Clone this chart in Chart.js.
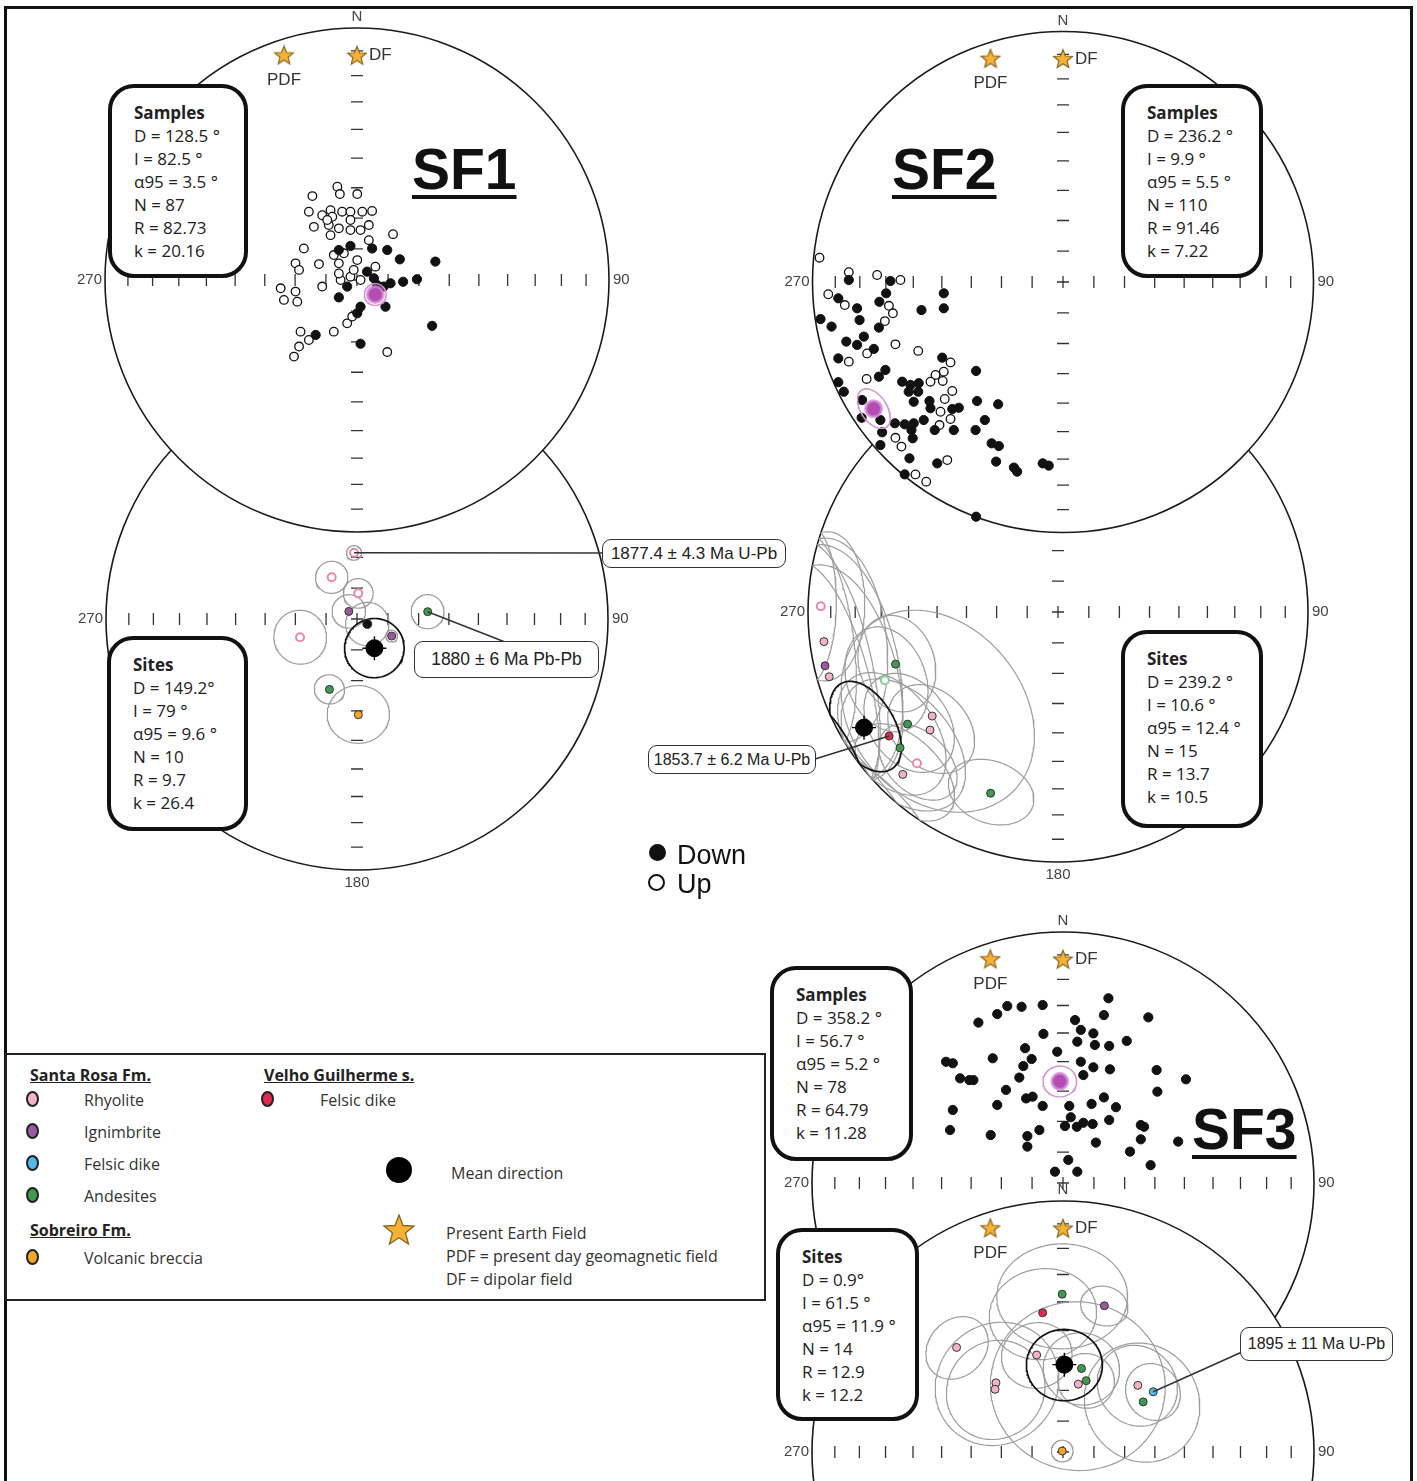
<!DOCTYPE html>
<html lang="en">
<head>
<meta charset="UTF-8">
<title>SF1 / SF2 / SF3 equal-area projections</title>
<script src="https://cdn.jsdelivr.net/npm/chart.js"></script>
<style>
  body { margin: 0; background: #fff; }
  #page { position: relative; width: 1417px; height: 1481px; overflow: hidden; background: #fff;
          font-family: "Open Sans", "Noto Sans", sans-serif; color: #222; }
  #frame { position: absolute; left: 4px; top: 6px; width: 1409px; height: 1520px; box-sizing: border-box;
           border: 3px solid #111; border-bottom: none; }
  canvas.net { position: absolute; }
  .box { position: absolute; box-sizing: border-box; border: 4px solid #111; border-radius: 26px; background: #fff;
         padding: 13px 0 0 22px; font-size: 17px; line-height: 23px; color: #222; white-space: nowrap; }
  .box b { font-weight: 700; }
  .title { position: absolute; font-family: "Liberation Sans", Arial, sans-serif; font-weight: 700; font-size: 57px;
           line-height: 57px; text-decoration: underline; text-decoration-thickness: 4px; text-underline-offset: 6px; color: #111; }
  .call { position: absolute; box-sizing: border-box; border: 1.5px solid #333; border-radius: 9px; background: #fff;
          font-family: "Liberation Sans", Arial, sans-serif; display: flex; align-items: center; justify-content: center;
          color: #222; white-space: nowrap; }
  #legend { position: absolute; left: 5px; top: 1053px; width: 761px; height: 248px; box-sizing: border-box;
            border: 2px solid #222; background: #fff; }
  .lt { position: absolute; font-size: 16px; line-height: 22px; color: #333; white-space: nowrap; }
  .lt.h { font-weight: 700; text-decoration: underline; color: #222; }
  .dot { position: absolute; width: 9px; height: 12px; border: 2px solid #222; border-radius: 50%; }
  .du { position: absolute; font-family: "Liberation Sans", Arial, sans-serif; font-size: 27px; line-height: 30px; color: #111; }
</style>
</head>
<body>
<div id="page">
  <div id="frame"></div>
</div>

<script>
// ---------- data ----------
// sample directions, equal-area projected (x = east, y = north, primitive radius = 1)
const sf1Down = [[-0.072,0.119],[-0.026,0.135],[0.060,0.125],[0.120,0.119],[0.170,0.082],[0.311,0.073],[0.040,0.033],
  [0.067,0.007],[0.133,-0.013],[0.183,-0.007],[0.238,0.003],[0.106,-0.026],[-0.072,-0.069],[0.014,-0.106],[0.001,-0.132],
  [0.113,-0.106],[0.298,-0.182],[-0.164,-0.218],[0.014,-0.253],[-0.039,-0.026],[0.080,-0.020]];
const sf1Up = [[-0.078,0.370],[-0.068,0.341],[0.001,0.341],[-0.177,0.333],[-0.191,0.271],[-0.138,0.257],[-0.105,0.277],
  [-0.098,0.251],[-0.059,0.271],[-0.026,0.271],[0.021,0.271],[0.060,0.274],[-0.171,0.211],[-0.112,0.218],[-0.072,0.205],
  [-0.026,0.238],[-0.026,0.198],[0.014,0.198],[0.047,0.218],[0.143,0.182],[0.047,0.158],[-0.105,0.178],[-0.211,0.125],
  [0.001,0.079],[0.073,0.053],[-0.244,0.066],[-0.230,0.040],[-0.151,0.063],[-0.072,0.066],[-0.065,0.000],[-0.026,0.013],
  [0.014,0.000],[-0.138,-0.026],[-0.303,-0.033],[-0.244,-0.046],[-0.290,-0.079],[-0.237,-0.086],[-0.039,-0.172],
  [-0.019,-0.145],[-0.092,-0.205],[-0.224,-0.205],[-0.191,-0.238],[-0.230,-0.264],[-0.250,-0.304],[0.120,-0.286],
  [-0.092,0.099],[-0.052,0.106],[-0.013,0.040],[-0.072,0.026],[-0.118,0.238]];
const sf2Down = [[-0.855,0.008],[-0.689,0.004],[-0.897,-0.065],[-0.822,-0.105],[-0.812,-0.152],[-0.706,-0.045],[-0.733,-0.079],
  [-0.735,-0.182],[-0.476,-0.045],[-0.476,-0.105],[-0.565,-0.112],[-0.968,-0.148],[-0.924,-0.178],[-0.865,-0.238],
  [-0.822,-0.251],[-0.795,-0.218],[-0.755,-0.267],[-0.897,-0.305],[-0.482,-0.302],[-0.709,-0.351],[-0.735,-0.378],
  [-0.897,-0.400],[-0.875,-0.438],[-0.642,-0.398],[-0.609,-0.411],[-0.576,-0.404],[-0.616,-0.438],[-0.802,-0.471],
  [-0.804,-0.542],[-0.729,-0.551],[-0.722,-0.600],[-0.729,-0.651],[-0.533,-0.475],[-0.529,-0.504],[-0.442,-0.507],
  [-0.416,-0.502],[-0.343,-0.475],[-0.259,-0.488],[-0.347,-0.355],[-0.312,-0.551],[-0.671,-0.564],[-0.632,-0.568],
  [-0.596,-0.564],[-0.556,-0.551],[-0.605,-0.591],[-0.600,-0.624],[-0.512,-0.591],[-0.436,-0.591],[-0.349,-0.591],
  [-0.613,-0.704],[-0.502,-0.724],[-0.267,-0.717],[-0.196,-0.741],[-0.183,-0.757],[-0.081,-0.724],[-0.057,-0.733],
  [-0.632,-0.768],[-0.347,-0.937],[-0.285,-0.644],[-0.256,-0.655],[-0.596,-0.478],[-0.578,-0.438]];
const sf2Up = [[-0.972,0.097],[-0.855,0.039],[-0.742,0.028],[-0.649,0.008],[-0.937,-0.049],[-0.871,-0.092],[-0.695,-0.095],
  [-0.679,-0.125],[-0.711,-0.156],[-0.782,-0.285],[-0.669,-0.249],[-0.578,-0.275],[-0.855,-0.318],[-0.449,-0.321],
  [-0.476,-0.358],[-0.480,-0.395],[-0.509,-0.371],[-0.529,-0.398],[-0.784,-0.387],[-0.472,-0.467],[-0.442,-0.435],
  [-0.489,-0.518],[-0.449,-0.547],[-0.669,-0.622],[-0.645,-0.657],[-0.493,-0.571],[-0.462,-0.711],[-0.589,-0.768],
  [-0.546,-0.797]];
const sf3Down = [[0.181,0.736],[-0.222,0.705],[-0.165,0.702],[-0.081,0.709],[-0.262,0.673],[-0.337,0.639],[0.163,0.669],
  [0.340,0.660],[0.048,0.649],[0.071,0.610],[0.121,0.596],[-0.078,0.594],[0.057,0.563],[0.127,0.550],[0.184,0.546],
  [0.254,0.566],[-0.151,0.537],[-0.023,0.523],[-0.280,0.497],[-0.125,0.494],[-0.466,0.483],[-0.439,0.477],[-0.158,0.466],
  [0.071,0.483],[0.121,0.461],[0.187,0.453],[0.373,0.450],[0.081,0.430],[-0.410,0.417],[-0.373,0.410],[-0.357,0.410],
  [-0.174,0.420],[0.490,0.413],[-0.227,0.371],[0.376,0.364],[-0.147,0.337],[-0.121,0.344],[-0.262,0.311],[-0.081,0.307],
  [0.025,0.307],[0.114,0.315],[0.163,0.341],[0.211,0.302],[-0.439,0.291],[-0.450,0.211],[-0.288,0.191],[-0.094,0.211],
  [-0.142,0.187],[0.008,0.227],[0.031,0.262],[0.055,0.224],[0.081,0.240],[0.118,0.235],[0.184,0.251],[0.310,0.231],
  [0.323,0.224],[-0.142,0.145],[0.131,0.161],[0.310,0.174],[0.459,0.165],[0.267,0.125],[0.021,0.092],[-0.032,0.045],
  [0.057,0.045],[0.349,0.071]];

// statistics: D, I, alpha95, N, R, k
const sf1SampleStats = [128.5, 82.5, 3.5, 87, 82.73, 20.16];
const sf2SampleStats = [236.2, 9.9, 5.5, 110, 91.46, 7.22];
const sf3SampleStats = [358.2, 56.7, 5.2, 78, 64.79, 11.28];
const sf1SiteStats = [149.2, 79, 9.6, 10, 9.7, 26.4];
const sf2SiteStats = [239.2, 10.6, 12.4, 15, 13.7, 10.5];
const sf3SiteStats = [0.9, 61.5, 11.9, 14, 12.9, 12.2];

// site mean directions (negative inclination = upper hemisphere)
const sf1SiteDec = [357.4, 328.7, 2.8, 313.0, 116.0, 84.1, 252.2, 116.2, 201.4, 179.2];
const sf1SiteInc = [-68.5, -74.2, -81.7, 86.4, 86.3, 66.9, -70.6, 77.5, 65.4, 58.7];
const sf1SiteA95 = [2.4, 5.2, 4.8, 5.4, 7.0, 5.4, 8.6, 1.9, 4.8, 9.7];
const sf1SiteUnit = ['rhy', 'rhy', 'rhy', 'ign', 'blk', 'and', 'rhy', 'ign', 'and', 'brc'];

const sf2SiteDec = [271.4, 262.8, 257.0, 254.2, 252.2, 248.5, 233.7, 233.3, 229.3, 230.4, 227.3, 223.0, 223.7, 200.4];
const sf2SiteInc = [-5.7, 6.3, 4.9, 5.5, 32.3, -26.5, 17.3, 25.9, 17.8, 35.0, 31.0, -18.4, 11.1, 23.7];
const sf2SiteA95 = [18, 25, 29, 27, 14, 15, 18, 15, 20, 32, 14, 12, 15, 12];
const sf2SiteUnit = ['rhy', 'rhy', 'ign', 'rhy', 'and', 'and', 'vgd', 'and', 'and', 'rhy', 'rhy', 'rhy', 'rhy', 'and'];

const sf3SiteDec = [359.7, 15.8, 351.7, 314.5, 344.8, 12.5, 18.0, 12.7, 315.9, 312.7, 48.3, 56.3, 58.0, 321];
const sf3SiteInc = [37.2, 39.3, 43.3, 40.3, 57.1, 62.1, 65.6, 67.4, 58.5, 59.8, 57.2, 54.4, 59.1, 89.6];
const sf3SiteA95 = [19, 7, 16, 10, 11, 12, 9, 28, 20, 16, 13, 9, 19, 3.5];
const sf3SiteUnit = ['and', 'ign', 'vgd', 'rhy', 'rhy', 'and', 'and', 'rhy', 'rhy', 'rhy', 'rhy', 'fel', 'and', 'brc'];

// present earth field references
const fieldNames = ['PDF', 'DF'];
const fieldDec = [342, 0];
const fieldInc = [7, 12];

const tickIncs = [10, 20, 30, 40, 50, 60, 70, 80];
const ageLabels = ['1877.4 ± 4.3 Ma U-Pb', '1880 ± 6 Ma Pb-Pb', '1853.7 ± 6.2 Ma U-Pb', '1895 ± 11 Ma U-Pb'];

// ---------- helpers ----------
const rad = Math.PI / 180;
const unitFill = { rhy: '#f2b3c5', ign: '#9a5aa0', fel: '#52b8ea', and: '#3e9a4e', brc: '#f5a629', vgd: '#e3294d', blk: '#111111' };
const unitRing = { rhy: '#e98aa6', and: '#8acb92' };

// equal-area (Schmidt) projection, lower hemisphere
function proj(dec, inc) {
  const r = Math.sqrt(1 - Math.sin(Math.abs(inc) * rad));
  return { x: r * Math.sin(dec * rad), y: r * Math.cos(dec * rad) };
}

// small circle of radius a95 around a direction
function cone(dec, inc, a95) {
  const D = dec * rad, I = inc * rad, a = a95 * rad;
  const u = [Math.cos(I) * Math.cos(D), Math.cos(I) * Math.sin(D), Math.sin(I)];
  const e1 = [-Math.sin(D), Math.cos(D), 0];
  const e2 = [-Math.sin(I) * Math.cos(D), -Math.sin(I) * Math.sin(D), Math.cos(I)];
  const pts = [];
  for (let k = 0; k <= 160; k++) {
    const t = 2 * Math.PI * k / 160;
    const v = [0, 1, 2].map(j => Math.cos(a) * u[j] + Math.sin(a) * (Math.cos(t) * e1[j] + Math.sin(t) * e2[j]));
    const h = Math.hypot(v[0], v[1]) || 1e-9;
    const r = Math.sqrt(Math.max(0, 1 - Math.abs(v[2])));
    pts.push({ x: r * v[1] / h, y: r * v[0] / h });
  }
  return pts;
}

function toXY(arr) { return arr.map(p => ({ x: p[0], y: p[1] })); }

// star marker
const starImg = document.createElement('canvas');
starImg.width = starImg.height = 22;
(function () {
  const c = starImg.getContext('2d');
  c.beginPath();
  for (let i = 0; i < 10; i++) {
    const r = i % 2 ? 4.3 : 9.8, a = -Math.PI / 2 + i * Math.PI / 5;
    c.lineTo(11 + r * Math.cos(a), 11.5 + r * Math.sin(a));
  }
  c.closePath();
  c.fillStyle = '#f6b233'; c.fill();
  c.strokeStyle = '#8a6420'; c.lineWidth = 1.2; c.stroke();
})();

// draws the net furniture: white disc, primitive, ticks, labels, field labels, callout leaders
const netPlugin = {
  id: 'net',
  beforeDatasetsDraw(chart, args, o) {
    const { ctx } = chart;
    const sx = chart.scales.x, sy = chart.scales.y;
    const cx = sx.getPixelForValue(0), cy = sy.getPixelForValue(0);
    const R = sx.getPixelForValue(1) - cx;
    ctx.save();
    ctx.fillStyle = '#fff';
    ctx.beginPath(); ctx.arc(cx, cy, R, 0, 2 * Math.PI); ctx.fill();
    ctx.strokeStyle = '#1a1a1a';
    ctx.lineWidth = 1.6;
    ctx.stroke();
    ctx.lineWidth = 1.3;
    ctx.strokeStyle = '#333';
    ctx.beginPath();
    tickIncs.forEach(inc => {
      const r = R * Math.sqrt(1 - Math.sin(inc * rad));
      [-1, 1].forEach(s => {
        ctx.moveTo(cx - 6, cy + s * r); ctx.lineTo(cx + 6, cy + s * r);
        ctx.moveTo(cx + s * r, cy - 6); ctx.lineTo(cx + s * r, cy + 6);
      });
    });
    ctx.moveTo(cx - 6, cy); ctx.lineTo(cx + 6, cy);
    ctx.moveTo(cx, cy - 6); ctx.lineTo(cx, cy + 6);
    ctx.stroke();

    ctx.fillStyle = '#444';
    ctx.font = '15px "Liberation Sans", Arial, sans-serif';
    ctx.textBaseline = 'middle';
    if (o.N) { ctx.textAlign = 'center'; ctx.fillText('N', cx, cy - R - 11); }
    if (o.S) { ctx.textAlign = 'center'; ctx.fillText('180', cx, cy + R + 13); }
    ctx.textAlign = 'right'; ctx.fillText('270', cx - R - 3, cy);
    ctx.textAlign = 'left'; ctx.fillText('90', cx + R + 4, cy);

    if (o.stars) {
      ctx.fillStyle = '#333';
      ctx.font = '17px "Liberation Sans", Arial, sans-serif';
      fieldNames.forEach((nm, i) => {
        const p = proj(fieldDec[i], fieldInc[i]);
        const px = sx.getPixelForValue(p.x), py = sy.getPixelForValue(p.y);
        if (nm === 'DF') { ctx.textAlign = 'left'; ctx.fillText(nm, px + 12, py); }
        else { ctx.textAlign = 'center'; ctx.fillText(nm, px, py + 25); }
      });
    }
    ctx.restore();
  },
  afterDatasetsDraw(chart, args, o) {
    if (!o.callouts) return;
    const { ctx } = chart;
    const sx = chart.scales.x, sy = chart.scales.y;
    ctx.save();
    ctx.strokeStyle = '#333';
    ctx.lineWidth = 1.5;
    o.callouts.forEach(c => {
      const p = proj(c.dec, c.inc);
      ctx.beginPath();
      ctx.moveTo(sx.getPixelForValue(p.x), sy.getPixelForValue(p.y));
      ctx.lineTo(c.to[0] - o.offset[0], c.to[1] - o.offset[1]);
      ctx.stroke();
    });
    ctx.restore();
  }
};

const page = document.getElementById('page');

function makeNet(cx, cy, R, datasets, opts) {
  const half = Math.round(R * 1.32);
  const lim = half / R;
  const cv = document.createElement('canvas');
  cv.className = 'net';
  cv.width = cv.height = 2 * half;
  cv.style.left = (cx - half) + 'px';
  cv.style.top = (cy - half) + 'px';
  page.appendChild(cv);
  opts.offset = [cx - half, cy - half];
  new Chart(cv, {
    type: 'scatter',
    data: { datasets: datasets },
    options: {
      responsive: false,
      animation: false,
      events: [],
      layout: { padding: 0, autoPadding: false },
      plugins: { legend: { display: false }, tooltip: { enabled: false }, net: opts },
      scales: {
        x: { type: 'linear', min: -lim, max: lim, display: false },
        y: { type: 'linear', min: -lim, max: lim, display: false }
      }
    },
    plugins: [netPlugin]
  });
}

function sampleSets(down, up, stats) {
  const sets = [];
  const m = proj(stats[0], stats[1]);
  sets.push({ data: [m], pointRadius: 8, pointBackgroundColor: '#b44cb4', pointBorderColor: 'rgba(214,140,214,0.75)', pointBorderWidth: 3, order: 0 });
  sets.push({ data: cone(stats[0], stats[1], stats[2]), showLine: true, pointRadius: 0, borderColor: '#d493d4', borderWidth: 1.4, backgroundColor: 'rgba(230,190,230,0.35)', fill: true, order: 1 });
  sets.push({ data: toXY(down), pointRadius: 4.6, pointBackgroundColor: '#111', pointBorderColor: '#111', pointBorderWidth: 1, order: 2 });
  if (up) sets.push({ data: toXY(up), pointRadius: 4.3, pointBackgroundColor: '#fff', pointBorderColor: '#111', pointBorderWidth: 1.3, order: 3 });
  sets.push({ data: fieldDec.map((d, i) => proj(d, fieldInc[i])), pointStyle: starImg, pointRadius: 10, order: 0 });
  return sets;
}

function siteSets(decs, incs, a95s, units, stats, stars) {
  const sets = [];
  const m = proj(stats[0], stats[1]);
  sets.push({ data: [m], pointRadius: 8.5, pointBackgroundColor: '#000', pointBorderColor: '#000', order: 0 });
  sets.push({ data: [m], pointStyle: 'cross', pointRadius: 12, pointBorderColor: '#000', pointBorderWidth: 1.4, order: 0 });
  sets.push({ data: cone(stats[0], stats[1], stats[2]), showLine: true, pointRadius: 0, borderColor: '#111', borderWidth: 1.7, order: 2 });
  sets.push({
    data: decs.map((d, i) => proj(d, incs[i])),
    pointRadius: units.map(u => u === 'blk' ? 4.5 : 4),
    pointBackgroundColor: units.map((u, i) => incs[i] < 0 ? '#fff' : unitFill[u]),
    pointBorderColor: units.map((u, i) => incs[i] < 0 ? (unitRing[u] || unitFill[u]) : '#333'),
    pointBorderWidth: units.map((u, i) => incs[i] < 0 ? 2 : 1),
    order: 1
  });
  decs.forEach((d, i) => sets.push({ data: cone(d, incs[i], a95s[i]), showLine: true, pointRadius: 0, borderColor: '#9d9d9d', borderWidth: 1.2, order: 5 }));
  if (stars) sets.push({ data: fieldDec.map((d, i) => proj(d, fieldInc[i])), pointStyle: starImg, pointRadius: 10, order: 0 });
  return sets;
}

// ---------- nets (later canvases cover earlier ones) ----------
makeNet(357, 619, 251, siteSets(sf1SiteDec, sf1SiteInc, sf1SiteA95, sf1SiteUnit, sf1SiteStats, false),
  { S: true, callouts: [{ dec: sf1SiteDec[0], inc: sf1SiteInc[0], to: [603, 553] }, { dec: sf1SiteDec[5], inc: sf1SiteInc[5], to: [505, 642] }] });
makeNet(356.5, 280, 252, sampleSets(sf1Down, sf1Up, sf1SampleStats), { N: true, stars: true });
makeNet(1058, 612, 250, siteSets(sf2SiteDec, sf2SiteInc, sf2SiteA95, sf2SiteUnit, sf2SiteStats, false),
  { S: true, callouts: [{ dec: sf2SiteDec[6], inc: sf2SiteInc[6], to: [815, 759] }] });
makeNet(1062.5, 282, 250.5, sampleSets(sf2Down, sf2Up, sf2SampleStats), { N: true, stars: true });
makeNet(1063, 1183, 251, sampleSets(sf3Down, null, sf3SampleStats), { N: true, stars: true });
makeNet(1063, 1452, 251, siteSets(sf3SiteDec, sf3SiteInc, sf3SiteA95, sf3SiteUnit, sf3SiteStats, true),
  { N: true, stars: true, callouts: [{ dec: sf3SiteDec[11], inc: sf3SiteInc[11], to: [1242, 1352] }] });

// ---------- text overlays ----------
function add(html) { page.insertAdjacentHTML('beforeend', html); }

function statBox(title, s, x, y, w, h, tight) {
  const deg = tight ? '°' : ' °';
  add(`<div class="box" style="left:${x}px;top:${y}px;width:${w}px;height:${h}px"><b>${title}</b><br>` +
      `D = ${s[0]}${deg}<br>I = ${s[1]} °<br>α95 = ${s[2]} °<br>N = ${s[3]}<br>R = ${s[4]}<br>k = ${s[5]}</div>`);
}
statBox('Samples', sf1SampleStats, 108, 84, 140, 194);
statBox('Sites', sf1SiteStats, 107, 636, 141, 195, true);
statBox('Samples', sf2SampleStats, 1121, 84, 142, 194);
statBox('Sites', sf2SiteStats, 1121, 630, 142, 198);
statBox('Samples', sf3SampleStats, 770, 966, 143, 195);
statBox('Sites', sf3SiteStats, 776, 1228, 143, 193, true);

add('<div class="title" style="left:412px;top:141px">SF1</div>');
add('<div class="title" style="left:892px;top:141px">SF2</div>');
add('<div class="title" style="left:1192px;top:1101px">SF3</div>');

add(`<div class="call" style="left:602px;top:539px;width:184px;height:29px;font-size:17px">${ageLabels[0]}</div>`);
add(`<div class="call" style="left:414px;top:641px;width:185px;height:37px;font-size:17.5px">${ageLabels[1]}</div>`);
add(`<div class="call" style="left:648px;top:745px;width:168px;height:29px;font-size:16px">${ageLabels[2]}</div>`);
add(`<div class="call" style="left:1240px;top:1327px;width:153px;height:34px;font-size:16px">${ageLabels[3]}</div>`);

// down / up key
add('<div style="position:absolute;left:649px;top:844px;width:17px;height:17px;border-radius:50%;background:#111"></div>');
add('<div class="du" style="left:677px;top:840px">Down</div>');
add('<div style="position:absolute;left:648px;top:874px;width:13px;height:13px;border-radius:50%;border:2px solid #111"></div>');
add('<div class="du" style="left:677px;top:869px">Up</div>');

// unit legend
add(`<div id="legend"></div>
<div class="lt h" style="left:30px;top:1064px">Santa Rosa Fm.</div>
<span class="dot" style="left:26px;top:1091px;background:${unitFill.rhy}"></span><div class="lt" style="left:84px;top:1089px">Rhyolite</div>
<span class="dot" style="left:26px;top:1123px;background:${unitFill.ign}"></span><div class="lt" style="left:84px;top:1121px">Ignimbrite</div>
<span class="dot" style="left:26px;top:1155px;background:${unitFill.fel}"></span><div class="lt" style="left:84px;top:1153px">Felsic dike</div>
<span class="dot" style="left:26px;top:1187px;background:${unitFill.and}"></span><div class="lt" style="left:84px;top:1185px">Andesites</div>
<div class="lt h" style="left:30px;top:1219px">Sobreiro Fm.</div>
<span class="dot" style="left:26px;top:1249px;background:${unitFill.brc}"></span><div class="lt" style="left:84px;top:1247px">Volcanic breccia</div>
<div class="lt h" style="left:264px;top:1064px">Velho Guilherme s.</div>
<span class="dot" style="left:261px;top:1091px;background:${unitFill.vgd}"></span><div class="lt" style="left:320px;top:1089px">Felsic dike</div>
<div style="position:absolute;left:386px;top:1157px;width:26px;height:26px;border-radius:50%;background:#000"></div>
<div class="lt" style="left:451px;top:1162px">Mean direction</div>
<svg style="position:absolute;left:382px;top:1213px" width="34" height="34" viewBox="0 0 34 34">
  <polygon points="17,2 21,12.5 32,13 23.5,20 26.5,31 17,24.8 7.5,31 10.5,20 2,13 13,12.5" fill="#f6b233" stroke="#8a6420" stroke-width="1.3"/>
</svg>
<div class="lt" style="left:446px;top:1222px">Present Earth Field</div>
<div class="lt" style="left:446px;top:1245px">PDF = present day geomagnetic field</div>
<div class="lt" style="left:446px;top:1268px">DF = dipolar field</div>`);
</script>
</body>
</html>
